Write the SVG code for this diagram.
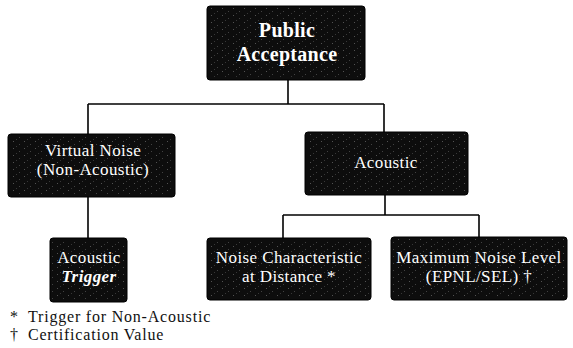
<svg xmlns="http://www.w3.org/2000/svg" width="573" height="348" viewBox="0 0 573 348">
  <defs>
    <pattern id="speck" width="11" height="7" patternUnits="userSpaceOnUse">
      <rect x="2" y="1" width="1" height="1" fill="#8a8a8a"/>
      <rect x="8" y="4" width="1" height="1" fill="#6e6e6e"/>
      <rect x="5" y="6" width="1" height="1" fill="#5a5a5a"/>
    </pattern>
    <style>
      .box { fill: #0d0d0d; stroke: #000; stroke-width: 1; }
      .tex { fill: url(#speck); opacity: 0.55; }
      .t { font-family: "Liberation Serif", "Times New Roman", serif; fill: #fff; text-anchor: middle; font-size: 17px; letter-spacing: 0.4px; }
      .big { font-size: 20px; font-weight: bold; letter-spacing: 0.3px; }
      .it { font-style: italic; font-weight: bold; }
      .note { font-family: "Liberation Serif", "Times New Roman", serif; fill: #111; font-size: 16px; letter-spacing: 0.8px; }
      .c { stroke: #000; stroke-width: 1.6; fill: none; }
    </style>
  </defs>
  <rect width="573" height="348" fill="#fff"/>

  <g id="connectors">
    <path class="c" d="M288 80 V104"/>
    <path class="c" d="M88 104 H384"/>
    <path class="c" d="M88 104 V134"/>
    <path class="c" d="M384 104 V132"/>
    <path class="c" d="M88 197 V238"/>
    <path class="c" d="M385 195 V215"/>
    <path class="c" d="M283 215 H479"/>
    <path class="c" d="M283 215 V238"/>
    <path class="c" d="M479 215 V237"/>
  </g>

  <g id="public-acceptance">
    <rect class="box" x="207" y="6" width="158" height="74" rx="3"/>
    <rect class="tex" x="209" y="8" width="154" height="70"/>
    <text class="t big" x="287" y="37">Public</text>
    <text class="t big" x="287" y="61">Acceptance</text>
  </g>

  <g id="virtual-noise">
    <rect class="box" x="8" y="134" width="167" height="63" rx="3"/>
    <rect class="tex" x="10" y="136" width="163" height="59"/>
    <text class="t" x="93" y="156">Virtual Noise</text>
    <text class="t" x="93" y="175">(Non-Acoustic)</text>
  </g>

  <g id="acoustic">
    <rect class="box" x="305" y="132" width="163" height="63" rx="3"/>
    <rect class="tex" x="307" y="134" width="159" height="59"/>
    <text class="t" x="386" y="168">Acoustic</text>
  </g>

  <g id="acoustic-trigger">
    <rect class="box" x="50" y="238" width="77" height="64" rx="3"/>
    <rect class="tex" x="52" y="240" width="73" height="60"/>
    <text class="t" x="89" y="263">Acoustic</text>
    <text class="t it" x="89" y="282">Trigger</text>
  </g>

  <g id="noise-characteristic">
    <rect class="box" x="207" y="238" width="164" height="62" rx="3"/>
    <rect class="tex" x="209" y="240" width="160" height="58"/>
    <text class="t" x="289" y="263">Noise Characteristic</text>
    <text class="t" x="289" y="282">at Distance *</text>
  </g>

  <g id="maximum-noise">
    <rect class="box" x="391" y="237" width="176" height="63" rx="3"/>
    <rect class="tex" x="393" y="239" width="172" height="59"/>
    <text class="t" x="479" y="263">Maximum Noise Level</text>
    <text class="t" x="479" y="282">(EPNL/SEL) †</text>
  </g>

  <g id="footnotes">
    <text class="note" x="10" y="322">*</text>
    <text class="note" x="28" y="322">Trigger for Non-Acoustic</text>
    <text class="note" x="10" y="340">†</text>
    <text class="note" x="28" y="340">Certification Value</text>
  </g>
</svg>
